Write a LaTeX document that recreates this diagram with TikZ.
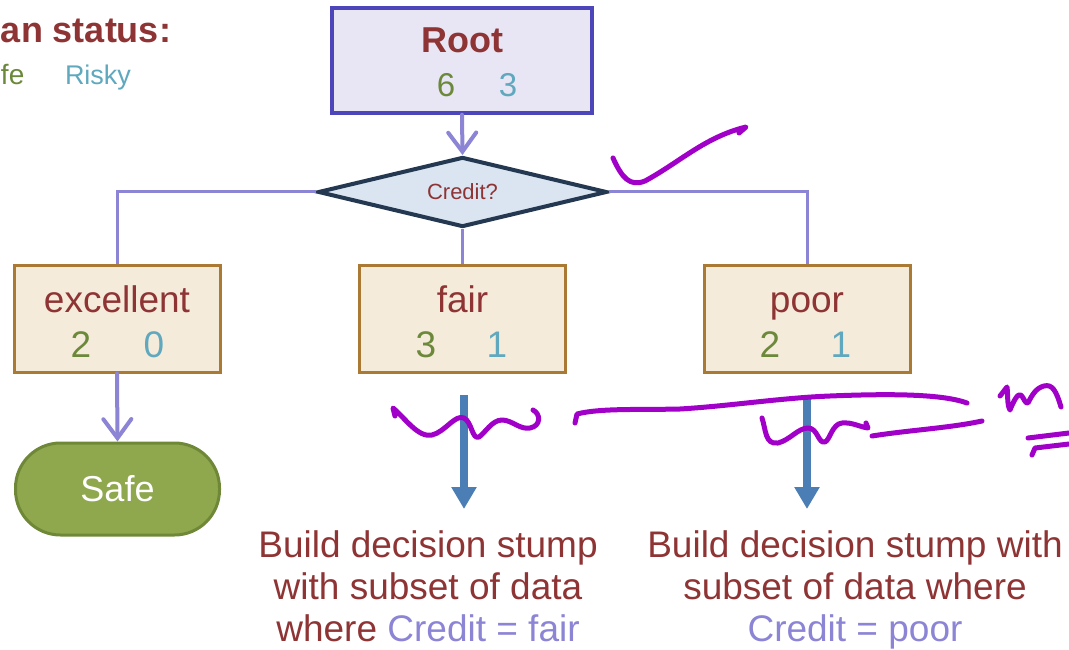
\documentclass[tikz,border=0pt]{standalone}
\usepackage{fontspec}
\setmainfont{Liberation Sans}
\usetikzlibrary{shapes.geometric,arrows.meta,calc}

\definecolor{textred}{RGB}{142,52,52}
\definecolor{olive}{RGB}{108,136,58}
\definecolor{teal}{RGB}{95,168,190}
\definecolor{lav}{RGB}{140,132,212}
\definecolor{rootline}{RGB}{76,70,186}
\definecolor{rootfill}{RGB}{232,230,245}
\definecolor{diafill}{RGB}{218,229,241}
\definecolor{dialine}{RGB}{36,56,82}
\definecolor{boxfill}{RGB}{245,235,218}
\definecolor{boxline}{RGB}{170,122,52}
\definecolor{safefill}{RGB}{143,168,78}
\definecolor{safeline}{RGB}{110,136,56}
\definecolor{steel}{RGB}{74,126,181}
\definecolor{ink}{RGB}{160,0,200}

\newcommand{\fs}[1]{\fontsize{#1}{#1}\selectfont}

\begin{document}
\begin{tikzpicture}[x=1pt,y=-1pt,
  txt/.style={inner sep=0pt, outer sep=0pt, anchor=base},
  rootbox/.style={draw=rootline, fill=rootfill, line width=3.5pt,
    minimum width=260pt, minimum height=105pt, inner sep=0pt},
  question/.style={diamond, aspect=4, draw=dialine, fill=diafill, line width=4pt,
    minimum width=289pt, minimum height=70pt, inner sep=0pt,
    text=textred, font=\fs{22}},
  branchbox/.style={draw=boxline, fill=boxfill, line width=3pt,
    minimum width=206pt, minimum height=107pt, inner sep=0pt},
  leaf/.style={draw=safeline, fill=safefill, line width=3pt, rounded corners=45pt,
    minimum width=204pt, minimum height=92pt, inner sep=0pt,
    text=white, font=\fs{36}},
  conn/.style={draw=lav, line width=3pt},
  openarrow/.style={conn, line width=4pt, line cap=round,
    -{Straight Barb[length=19pt,width=28pt,line cap=round]}},
  bigarrow/.style={draw=steel, line width=8pt, -{Triangle[length=22pt,width=24pt]}},
  note/.style={txt, align=center, text=textred, font=\fontsize{37}{42}\selectfont},
  inkstroke/.style={draw=ink, line width=5pt, line cap=round, line join=round}
]
\useasboundingbox (0,0) rectangle (1069,650);

% legend
\node[txt, anchor=base west, text=textred, font=\bfseries\fs{36}] (legtitle) at (1,43) {an status:};
\node[txt, anchor=base west, text=olive, font=\fs{28}] (legsafe) at (1,85) {fe};
\node[txt, anchor=base west, text=teal, font=\fs{27}] (legrisky) at (65,85) {Risky};

% root
\node[rootbox] (root) at (462,60.5) {};
\node[txt, text=textred, font=\bfseries\fs{36}] (rootlbl) at (462,53) {Root};
\node[txt, text=olive, font=\fs{33}] (rootsafe) at (446,97) {6};
\node[txt, text=teal, font=\fs{33}] (rootrisky) at (508,97) {3};

% split
\node[question] (credit) at (462.5,192) {Credit?};
\draw[openarrow] (root.south) -- (credit.north);

% branches
\node[branchbox] (exc) at (117,318.5) {};
\node[branchbox] (fair) at (462.5,318.5) {};
\node[branchbox] (poor) at (807,318.5) {};

\draw[conn] (credit.west) -| (exc.north);
\draw[conn] (credit.south) -- (fair.north);
\draw[conn] (credit.east) -| (poor.north);

\node[txt, text=textred, font=\fs{37}] (exclbl) at (117,312) {excellent};
\node[txt, text=olive, font=\fs{37}] (excsafe) at (81,357) {2};
\node[txt, text=teal, font=\fs{37}] (excrisky) at (154,357) {0};

\node[txt, text=textred, font=\fs{37}] (fairlbl) at (462.5,312) {fair};
\node[txt, text=olive, font=\fs{37}] (fairsafe) at (426,357) {3};
\node[txt, text=teal, font=\fs{37}] (fairrisky) at (497,357) {1};

\node[txt, text=textred, font=\fs{37}] (poorlbl) at (807,312) {poor};
\node[txt, text=olive, font=\fs{37}] (poorsafe) at (770,357) {2};
\node[txt, text=teal, font=\fs{37}] (poorrisky) at (841,357) {1};

% leaf
\node[leaf] (safe) at (117.5,489) {Safe};
\draw[openarrow] (exc.south) -- (safe.north);

% recursion arrows
\coordinate (fairtop) at (464,395);
\coordinate (fairtip) at (464,509);
\coordinate (poortop) at (807,395);
\coordinate (poortip) at (807,509);
\draw[bigarrow] (fairtop) -- (fairtip);
\draw[bigarrow] (poortop) -- (poortip);

% (the base anchor of a multi-line node sits on its last line)
\node[note] (fairnote) at (428,641) {Build decision stump\\with subset of data\\where \textcolor{lav}{Credit = fair}};
\node[note] (poornote) at (855,641) {Build decision stump with\\subset of data where\\\textcolor{lav}{Credit = poor}};

% handwritten annotations
\draw[inkstroke] (613,158) .. controls (622,178) and (630,187) .. (645,181)
  .. controls (680,162) and (705,137) .. (746,127) -- (739,133);
\draw[inkstroke] (395,416) -- (393,408) .. controls (405,418) and (418,438) .. (432,435)
  .. controls (445,432) and (455,414) .. (464,418)
  .. controls (472,422) and (472,440) .. (479,437)
  .. controls (485,433) and (492,420) .. (502,420)
  .. controls (512,420) and (520,430) .. (530,428)
  .. controls (541,426) and (541,414) .. (533,410);
\draw[inkstroke] (575,423) -- (577,414) .. controls (600,408) and (640,410) .. (680,409)
  .. controls (730,406) and (780,398) .. (830,396)
  .. controls (880,394) and (940,393) .. (967,403);
\draw[inkstroke] (762,418) .. controls (766,430) and (765,445) .. (778,443)
  .. controls (790,440) and (798,428) .. (808,428)
  .. controls (818,428) and (818,444) .. (825,442)
  .. controls (830,440) and (832,424) .. (842,423)
  .. controls (852,422) and (860,427) .. (868,428) -- (866,423);
\draw[inkstroke] (872,436) .. controls (910,430) and (950,428) .. (982,421);
\draw[inkstroke] (1000,396) -- (1007,387) .. controls (1008,395) and (1007,405) .. (1010,410)
  .. controls (1014,400) and (1018,393) .. (1021,395)
  .. controls (1024,398) and (1025,404) .. (1028,403)
  .. controls (1032,395) and (1036,388) .. (1044,386)
  .. controls (1052,384) and (1056,390) .. (1061,407);
\draw[inkstroke] (1028,438) -- (1069,433);
\draw[inkstroke] (1032,455) -- (1035,448) -- (1069,444);
\end{tikzpicture}
\end{document}
